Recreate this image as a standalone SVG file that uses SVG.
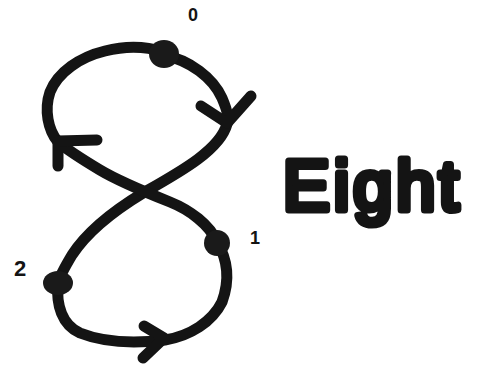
<svg xmlns="http://www.w3.org/2000/svg" width="483" height="366" viewBox="0 0 483 366">
<style>
.edge{fill:none;stroke:#141414;stroke-width:11;stroke-linecap:round;stroke-linejoin:round}
.head{fill:none;stroke:#141414;stroke-width:11;stroke-linecap:round;stroke-linejoin:round}
.node{fill:#1a1a1a}
.lbl{font-family:"Liberation Sans",Arial,sans-serif;font-weight:bold;fill:#141414;text-anchor:middle}
.title{font-family:"Liberation Sans",Arial,sans-serif;fill:#141414;stroke:#141414;stroke-width:7;stroke-linejoin:round;stroke-linecap:round}
</style>
<rect width="483" height="366" fill="#ffffff"/>
<g id="connectors">
  <path id="e0-2" class="edge" d="M163,55 C190,60 213,78 222,98 C228,112 229,120 227,124 C220,150 180,172 143,193 C110,213 85,235 72,255 C66,265 60,275 58,283"/>
  <polyline class="head" points="201,106 227,123 251,96"/>
  <path id="e2-1" class="edge" d="M58,283 C56,305 62,325 80,333 C100,341 130,344 165,340 C190,336 212,322 222,302 C230,280 228,260 217,242"/>
  <polyline class="head" points="144,326 164,338 143,358"/>
  <path id="e1-0" class="edge" d="M217,242 C210,225 190,210 170,202 C150,194 120,182 100,170 C85,161 70,152 58,142 C48,130 44,110 50,92 C58,72 80,57 105,51 C125,46 145,46 163,52"/>
  <polyline class="head" points="97,140 58,141 58,166"/>
</g>
<g id="node0">
  <ellipse class="node" cx="164" cy="54" rx="15" ry="14"/>
  <text class="lbl" x="193" y="21" font-size="18">0</text>
</g>
<g id="node1">
  <ellipse class="node" cx="217" cy="243" rx="13" ry="13"/>
  <text class="lbl" x="255" y="244" font-size="18">1</text>
</g>
<g id="node2">
  <ellipse class="node" cx="58" cy="283" rx="15" ry="12"/>
  <text class="lbl" x="20" y="276" font-size="22">2</text>
</g>
<g id="title">
  <text class="title" x="283" y="210" font-size="70" letter-spacing="4">Eight</text>
</g>
</svg>
